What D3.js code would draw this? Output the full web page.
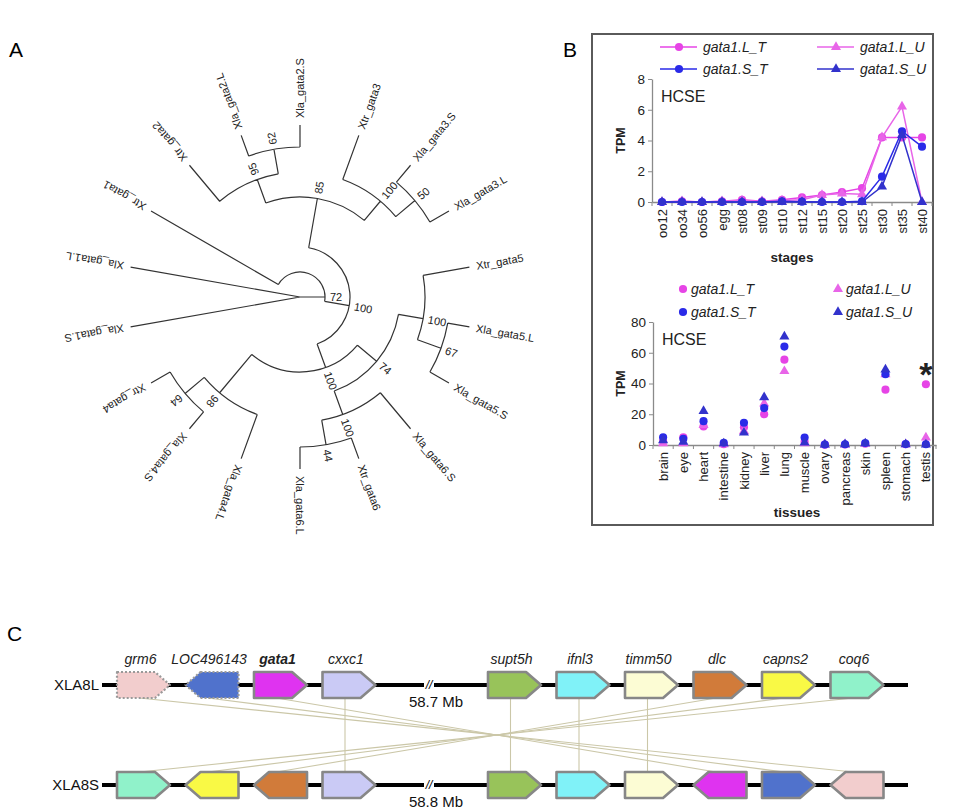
<!DOCTYPE html>
<html>
<head>
<meta charset="utf-8">
<script src="https://cdn.jsdelivr.net/npm/d3@7"></script>
<style>
  body { margin: 0; background: #fff; }
  text { font-family: "Liberation Sans", Arial, sans-serif; }
</style>
</head>
<body>
<svg id="fig" width="955" height="811"></svg>
<script>
// ---------- data: tree (panel A)
const leafNames = ["Xla_gata1.L","Xtr_gata1","Xtr_gata2","Xla_gata2.L","Xla_gata2.S","Xtr_gata3",
  "Xla_gata3.S","Xla_gata3.L","Xtr_gata5","Xla_gata5.L","Xla_gata5.S","Xla_gata6.S","Xtr_gata6",
  "Xla_gata6.L","Xla_gata4.L","Xla_gata4.S","Xtr_gata4","Xla_gata1.S"];
const leafParents = ["root","n72","n95","n62","n62","n3","n50","n50","n5","n67","n67","n6","n44",
  "n44","n98","n64","n64","root"];
const nodeIds     = ["root","n72","nB","n85","n95","n62","n3","n50","n9","n74","n5","n67","n6","n44","n98","n64"];
const nodeParents = ["","root","n72","nB","n85","n95","n85","n3","nB","n9","n74","n5","n74","n6","n9","n98"];
const nodeSupport = [null,72,100,85,95,62,100,50,100,74,100,67,100,44,98,64];

// ---------- data: expression (panel B)
const seriesNames = ["gata1.L_T","gata1.L_U","gata1.S_T","gata1.S_U"];
const seriesColors = ["#e644e6","#e865e8","#2a2ae8","#3232cc"];
const seriesShapes = ["circle","triangle","circle","triangle"];

const stages = ["oo12","oo34","oo56","egg","st08","st09","st10","st12","st15","st20","st25","st30","st35","st40"];
const stageLT = [0, 0.05, 0, 0.05, 0.15, 0.05, 0.15, 0.3, 0.45, 0.65, 0.9, 4.2, 4.2, 4.2];
const stageLU = [0, 0.05, 0, 0.05, 0.1, 0.05, 0.1, 0.15, 0.45, 0.55, 0.5, 4.2, 6.2, 0];
const stageST = [0, 0, 0, 0, 0, 0, 0.05, 0.02, 0, 0, 0.05, 1.65, 4.6, 3.6];
const stageSU = [0, 0, 0, 0, 0, 0, 0, 0, 0, 0, 0, 1.0, 4.35, 0];
const stageTicks = [0, 2, 4, 6, 8];

const tissues = ["brain","eye","heart","intestine","kidney","liver","lung","muscle","ovary","pancreas",
  "skin","spleen","stomach","testis"];
const tissueLT = [2.5, 5, 12, 0.5, 11.5, 20, 55.5, 2, 0.2, 0.3, 0.8, 36, 0.5, 39.5];
const tissueLU = [1, 1, 13, 0.5, 9, 27, 48, 1, 0.2, 0.3, 0.8, 46, 0.4, 4.8];
const tissueST = [5, 4, 15.5, 1.5, 14.5, 24, 64, 4.8, 0.3, 0.5, 1.3, 46, 0.6, 0.5];
const tissueSU = [3, 2, 22, 1, 8, 31, 70.5, 1.5, 0.2, 0.4, 1, 49, 0.5, 0.3];
const tissueTicks = [0, 20, 40, 60, 80];

// ---------- data: synteny (panel C)
const chromNames = ["XLA8L","XLA8S"];
const gapLabels = ["58.7 Mb","58.8 Mb"];
const genesL = ["grm6","LOC496143","gata1","cxxc1","supt5h","ifnl3","timm50","dlc","capns2","coq6"];
const strandL = [1,-1,1,1,1,1,1,1,1,1];
const genesS = ["coq6","capns2","dlc","cxxc1","supt5h","ifnl3","timm50","gata1","LOC496143","grm6"];
const strandS = [1,-1,-1,1,1,1,1,-1,1,-1];
const predictedL = ["grm6","LOC496143"];
const geneColors = {
  grm6: "#f2cdcd", LOC496143: "#5072cc", gata1: "#df33f0", cxxc1: "#cacaf5", supt5h: "#98c35a",
  ifnl3: "#80f2f8", timm50: "#fcfcd4", dlc: "#d17b3a", capns2: "#f9f945", coq6: "#90f2ca"
};

const FONT = '"Liberation Sans", Arial, sans-serif';
const svg = d3.select("#fig");

// panel letters
svg.append("text").attr("x", 9).attr("y", 57).style("font-size", "21px").text("A");
svg.append("text").attr("x", 563).attr("y", 57).style("font-size", "21px").text("B");
svg.append("text").attr("x", 7).attr("y", 641).style("font-size", "21px").text("C");

// ================= Panel A: circular tree
(function drawTree() {
  const cx = 300, cy = 297, rTip = 172;
  const rows = nodeIds.map((id, i) => ({ id, parent: nodeParents[i], support: nodeSupport[i] }))
    .concat(leafNames.map((id, i) => ({ id, parent: leafParents[i], support: null })));
  const root = d3.stratify().id(d => d.id).parentId(d => d.parent)(rows);

  const leafAngle = d3.scaleLinear().domain([0, leafNames.length]).range([-170, 190]);
  root.leaves().forEach(l => l.a = leafAngle(leafNames.indexOf(l.id)));
  root.eachAfter(n => { if (n.children) n.a = d3.mean(n.leaves(), l => l.a); });
  const rad = d3.scaleLinear().domain([root.height, 1]).range([0, 150]);
  root.each(n => n.r = n.children ? rad(n.height) : rTip);

  const rr = a => a * Math.PI / 180;
  const pt = (a, r) => [cx + r * Math.cos(rr(a)), cy + r * Math.sin(rr(a))];

  const p = d3.path();
  root.each(n => {
    if (n.parent) {
      const a0 = pt(n.a, n.parent.r), a1 = pt(n.a, n.r);
      p.moveTo(a0[0], a0[1]); p.lineTo(a1[0], a1[1]);
    }
    if (n.children && n.r > 0) {
      const e = d3.extent(n.children, c => c.a);
      const s = pt(e[0], n.r);
      p.moveTo(s[0], s[1]);
      p.arc(cx, cy, n.r, rr(e[0]), rr(e[1]));
    }
  });
  const g = svg.append("g");
  g.append("path").attr("d", p.toString()).attr("fill", "none")
    .attr("stroke", "#333").attr("stroke-width", 1.2);

  g.selectAll("text.leaf").data(root.leaves()).join("text")
    .attr("class", "leaf")
    .attr("transform", d => `translate(${cx},${cy}) rotate(${d.a}) translate(${rTip + 7},0)`)
    .attr("dy", "0.35em").attr("fill", "#222").style("font-size", "11px")
    .text(d => d.id);

  g.selectAll("text.bs").data(root.descendants().filter(n => n.data.support != null)).join("text")
    .attr("class", "bs")
    .attr("transform", d => `translate(${cx},${cy}) rotate(${d.a}) translate(${d.r + 5},0)`)
    .attr("dy", "0.35em").attr("fill", "#222").style("font-size", "11px")
    .text(d => d.data.support);
})();

// ================= Panel B: expression charts
svg.append("rect").attr("x", 592).attr("y", 34).attr("width", 341).attr("height", 491)
  .attr("fill", "none").attr("stroke", "#5a5a5a").attr("stroke-width", 2);

function marker(sel, shape, color) {
  sel.append("path")
    .attr("d", d3.symbol().type(shape === "circle" ? d3.symbolCircle : d3.symbolTriangle)
      .size(shape === "circle" ? 52 : 44)())
    .attr("fill", color);
}

function drawChart(opt) {
  const g = svg.append("g");
  const x = d3.scaleBand().domain(opt.cats).range(opt.xr);
  const y = d3.scaleLinear().domain(d3.extent(opt.ticks)).range(opt.yr);
  const y0 = opt.yr[0];

  const ya = g.append("g").attr("transform", `translate(${opt.xr[0]},0)`)
    .call(d3.axisLeft(y).tickValues(opt.ticks).tickSize(4).tickSizeOuter(0).tickPadding(3));
  const xa = g.append("g").attr("transform", `translate(0,${y0})`)
    .call(d3.axisBottom(x).tickSize(0).tickSizeOuter(0));
  [ya, xa].forEach(a => {
    a.select(".domain").attr("stroke", "#8a8a8a").attr("stroke-width", 1.3);
    a.selectAll(".tick line").attr("stroke", "#8a8a8a");
    a.selectAll(".tick text").attr("fill", "#222").style("font-family", FONT);
  });
  ya.selectAll(".tick text").style("font-size", "13.5px");
  xa.selectAll(".tick text").style("font-size", "13px")
    .attr("transform", "rotate(-90)").attr("x", -7).attr("y", 0)
    .attr("dy", "0.35em").attr("text-anchor", "end");
  g.append("g").selectAll("line").data(d3.range(opt.cats.length + 1)).join("line")
    .attr("x1", i => opt.xr[0] + i * x.step()).attr("x2", i => opt.xr[0] + i * x.step())
    .attr("y1", y0).attr("y2", y0 + 4).attr("stroke", "#8a8a8a");

  const cxOf = i => x(opt.cats[i]) + x.bandwidth() / 2;
  opt.series.forEach((vals, s) => {
    if (opt.lines) {
      g.append("path").datum(vals)
        .attr("d", d3.line().x((d, i) => cxOf(i)).y(d => y(d)))
        .attr("fill", "none").attr("stroke", seriesColors[s]).attr("stroke-width", 1.5);
    }
    vals.forEach((v, i) => {
      const m = g.append("g").attr("transform", `translate(${cxOf(i)},${y(v)})`);
      marker(m, seriesShapes[s], seriesColors[s]);
    });
  });

  g.append("text").attr("x", opt.xr[0] + 9).attr("y", opt.yr[1] + 23)
    .style("font-size", "16px").attr("fill", "#222").text("HCSE");
  g.append("text").attr("transform", `translate(625,${(opt.yr[0] + opt.yr[1]) / 2}) rotate(-90)`)
    .attr("text-anchor", "middle").style("font-size", "12.5px").style("font-weight", "bold")
    .attr("fill", "#222").text("TPM");
  g.append("text").attr("x", opt.titleX).attr("y", opt.titleY).attr("text-anchor", "middle")
    .style("font-size", "13.5px").style("font-weight", "bold").attr("fill", "#222").text(opt.title);

  // legend
  seriesNames.forEach((name, s) => {
    const lx = opt.legX[s % 2], ly = opt.legY[Math.floor(s / 2)];
    const lg = g.append("g").attr("transform", `translate(${lx},${ly})`);
    if (opt.lines) {
      lg.append("line").attr("x1", -19).attr("x2", 18).attr("stroke", seriesColors[s]).attr("stroke-width", 1.5);
    }
    marker(lg, seriesShapes[s], seriesColors[s]);
    lg.append("text").attr("x", opt.lines ? 24 : 8).attr("dy", "0.35em")
      .style("font-size", "14px").style("font-style", "italic").attr("fill", "#222").text(name);
  });
  return { x, y };
}

drawChart({
  cats: stages, series: [stageLT, stageLU, stageST, stageSU], ticks: stageTicks,
  xr: [652, 932], yr: [202, 79], lines: true,
  title: "stages", titleX: 792, titleY: 262,
  legX: [679, 836], legY: [47, 69]
});

const bottom = drawChart({
  cats: tissues, series: [tissueLT, tissueLU, tissueST, tissueSU], ticks: tissueTicks,
  xr: [653, 936], yr: [445, 322], lines: false,
  title: "tissues", titleX: 797, titleY: 517,
  legX: [683, 838], legY: [289, 312]
});
svg.append("text")
  .attr("x", bottom.x("testis") + bottom.x.bandwidth() / 2)
  .attr("y", bottom.y(tissueLT[13]) + 2)
  .attr("text-anchor", "middle").style("font-size", "34px").style("font-weight", "bold")
  .attr("fill", "#222").text("*");

// ================= Panel C: synteny
(function drawSynteny() {
  const rowY = [685, 785];
  const slotX = d3.scaleLinear().domain([0, 3, 4, 9]).range([117, 322.5, 488, 830.5]);
  const w = 53, h = 26, tip = 15;
  const g = svg.append("g");

  // homology links
  g.selectAll("line.link").data(genesL).join("line")
    .attr("class", "link")
    .attr("x1", (d, i) => slotX(i) + w / 2 - 4)
    .attr("x2", d => slotX(genesS.indexOf(d)) + w / 2 - 4)
    .attr("y1", rowY[0] + h / 2).attr("y2", rowY[1] - h / 2)
    .attr("stroke", "#cbc7a8").attr("stroke-width", 1.1);

  chromNames.forEach((name, r) => {
    const y = rowY[r];
    g.append("text").attr("x", 99).attr("y", y + 5).attr("text-anchor", "end")
      .style("font-size", "15px").attr("fill", "#111").text(name);
    g.append("line").attr("x1", 102).attr("x2", 908).attr("y1", y).attr("y2", y)
      .attr("stroke", "#000").attr("stroke-width", 4);
    g.append("rect").attr("x", 424).attr("y", y - 4).attr("width", 10).attr("height", 8).attr("fill", "#fff");
    g.append("text").attr("x", 429).attr("y", y + 4).attr("text-anchor", "middle")
      .style("font-size", "12px").style("font-style", "italic").text("//");
    g.append("text").attr("x", 436).attr("y", y + 22).attr("text-anchor", "middle")
      .style("font-size", "15px").attr("fill", "#111").text(gapLabels[r]);

    const genes = r === 0 ? genesL : genesS;
    const strand = r === 0 ? strandL : strandS;
    genes.forEach((gene, i) => {
      const x0 = slotX(i), t = y - h / 2, b = y + h / 2;
      const pts = strand[i] > 0
        ? [[x0, t], [x0 + w - tip, t], [x0 + w, y], [x0 + w - tip, b], [x0, b]]
        : [[x0 + tip, t], [x0 + w, t], [x0 + w, b], [x0 + tip, b], [x0, y]];
      const dashed = r === 0 && predictedL.includes(gene);
      g.append("path").attr("d", d3.line()(pts) + "Z")
        .attr("fill", geneColors[gene])
        .attr("stroke", dashed ? "#9a9a9a" : "#878787")
        .attr("stroke-width", dashed ? 2.2 : 2.6)
        .attr("stroke-dasharray", dashed ? "2,2" : null)
        .attr("stroke-linejoin", "round");
      if (r === 0) {
        g.append("text").attr("x", x0 + w / 2 - 3).attr("y", 664).attr("text-anchor", "middle")
          .style("font-size", "14px").style("font-style", "italic")
          .style("font-weight", gene === "gata1" ? "bold" : "normal")
          .attr("fill", "#222").text(gene);
      }
    });
  });
})();
</script>
</body>
</html>
